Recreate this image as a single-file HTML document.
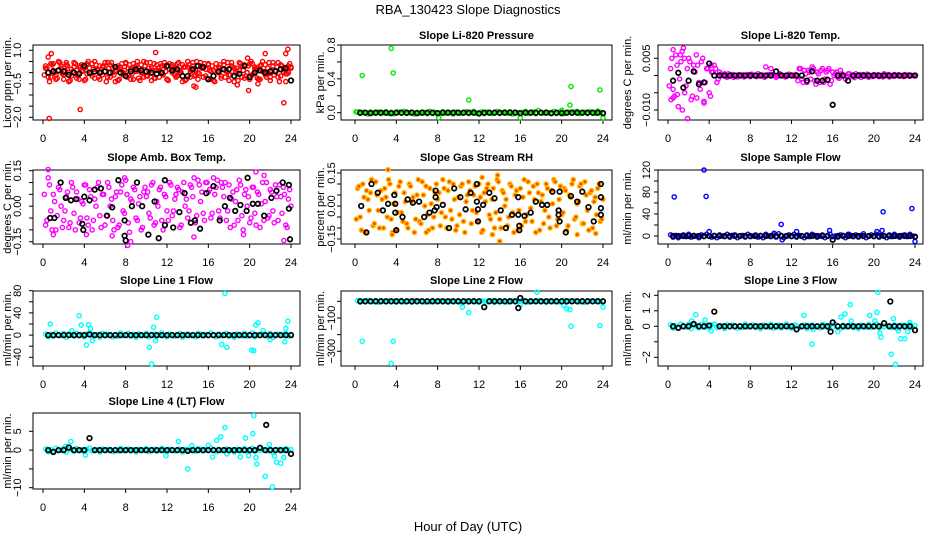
<!DOCTYPE html>
<html><head><meta charset="utf-8"><style>
html,body{margin:0;padding:0;background:#fff;}
svg{display:block;font-family:"Liberation Sans",Arial,sans-serif;}
</style></head><body>
<svg id="chart" width="936" height="540" viewBox="0 0 936 540" xmlns="http://www.w3.org/2000/svg">
<rect x="0" y="0" width="936" height="540" fill="#fff"/>
<text x="468" y="14" text-anchor="middle" font-size="13">RBA_130423  Slope Diagnostics</text>
<text x="468" y="531" text-anchor="middle" font-size="13">Hour of Day (UTC)</text>
</svg>
<script>
const hours96=[0.25,0.5,0.75,1,1.25,1.5,1.75,2,2.25,2.5,2.75,3,3.25,3.5,3.75,4,4.25,4.5,4.75,5,5.25,5.5,5.75,6,6.25,6.5,6.75,7,7.25,7.5,7.75,8,8.25,8.5,8.75,9,9.25,9.5,9.75,10,10.25,10.5,10.75,11,11.25,11.5,11.75,12,12.25,12.5,12.75,13,13.25,13.5,13.75,14,14.25,14.5,14.75,15,15.25,15.5,15.75,16,16.25,16.5,16.75,17,17.25,17.5,17.75,18,18.25,18.5,18.75,19,19.25,19.5,19.75,20,20.25,20.5,20.75,21,21.25,21.5,21.75,22,22.25,22.5,22.75,23,23.25,23.5,23.75,24];
const hoursHalf=[0.125,0.375,0.625,0.875,1.125,1.375,1.625,1.875,2.125,2.375,2.625,2.875,3.125,3.375,3.625,3.875,4.125,4.375,4.625,4.875,5.125,5.375,5.625,5.875,6.125,6.375,6.625,6.875,7.125,7.375,7.625,7.875,8.125,8.375,8.625,8.875,9.125,9.375,9.625,9.875,10.125,10.375,10.625,10.875,11.125,11.375,11.625,11.875,12.125,12.375,12.625,12.875,13.125,13.375,13.625,13.875,14.125,14.375,14.625,14.875,15.125,15.375,15.625,15.875,16.125,16.375,16.625,16.875,17.125,17.375,17.625,17.875,18.125,18.375,18.625,18.875,19.125,19.375,19.625,19.875,20.125,20.375,20.625,20.875,21.125,21.375,21.625,21.875,22.125,22.375,22.625,22.875,23.125,23.375,23.625,23.875];
const hours48=[0.5,1,1.5,2,2.5,3,3.5,4,4.5,5,5.5,6,6.5,7,7.5,8,8.5,9,9.5,10,10.5,11,11.5,12,12.5,13,13.5,14,14.5,15,15.5,16,16.5,17,17.5,18,18.5,19,19.5,20,20.5,21,21.5,22,22.5,23,23.5,24];
const xTickVals=[0,4,8,12,16,20,24];

// CO2
const co2A=[0.3,-0.2,0.4,0.1,-0.3,0.5,0.2,-0.1,0.35,-0.4,0.15,0.45,-0.25,0.3,0.05,-0.35,0.4,0.2,-0.15,0.5,0.1,-0.3,0.25,0.45,-0.2,0.35,0.0,-0.4,0.3,0.15,-0.1,0.45,0.2,-0.3,0.4,0.05,-0.25,0.35,0.5,-0.15,0.2,-0.35,0.4,0.1,-0.2,0.3,0.45,-0.3,0.15,0.35,-0.1,0.4,0.0,-0.4,0.25,0.5,-0.2,0.3,0.1,-0.3,0.45,0.2,-0.15,0.35,0.05,-0.35,0.4,0.25,-0.25,0.5,0.1,-0.1,0.3,-0.4,0.2,0.45,-0.2,0.35,0.0,-0.3,0.4,0.15,-0.25,0.3,0.5,-0.1,0.2,-0.35,0.45,0.1,-0.2,0.35,0.05,-0.4,0.3,0.2];
const co2B=[-0.1,0.2,-0.4,0.35,0.0,-0.25,0.45,-0.05,0.1,0.3,-0.35,0.05,0.4,-0.15,0.25,0.1,-0.3,0.5,-0.05,0.15,0.35,-0.2,0.0,0.3,-0.4,0.2,0.45,-0.1,0.05,-0.3,0.4,0.1,-0.2,0.35,-0.05,0.25,0.5,-0.35,0.0,0.3,-0.15,0.45,0.1,-0.25,0.2,0.4,-0.1,0.05,-0.35,0.3,0.15,-0.2,0.45,0.0,0.25,-0.3,0.35,0.1,-0.15,0.5,-0.05,0.2,0.4,-0.25,0.1,0.3,-0.4,0.05,0.35,0.15,-0.2,0.45,-0.1,0.25,0.0,-0.35,0.4,0.1,-0.15,0.3,0.5,-0.05,0.2,-0.3,0.35,0.05,-0.2,0.45,0.1,-0.1,0.25,-0.4,0.3,0.15,-0.05,0.4];
const co2C=[0.2,0.0,-0.2,0.4,-0.1,0.1,0.3,-0.3,0.45,0.0,-0.15,0.25,0.1,-0.3,0.35,0.2,-0.05,0.0,0.4,-0.25,0.15,0.3,-0.1,0.05,0.45,-0.2,0.2,0.1,-0.35,0.25,0.0,0.4,-0.1,0.15,-0.3,0.3,0.1,0.0,-0.2,0.45,0.05,0.2,-0.25,0.35,0.1,-0.05,0.3,-0.3,0.4,0.0,0.2,-0.15,0.1,0.35,-0.35,0.25,0.05,0.45,-0.1,0.0,0.3,-0.2,0.15,0.4,-0.3,0.1,0.2,0.0,-0.15,0.35,0.05,-0.35,0.45,0.2,-0.05,0.1,0.3,-0.25,0.0,0.4,-0.1,0.25,0.15,-0.3,0.05,0.35,0.0,-0.2,0.3,0.1,0.45,-0.15,0.2,-0.05,0.0,0.25];
const co2OutX=[0.6,3.6,0.8,0.5,10.9,14.6,14.8,19.9,19.8,20.8,23.3,23.5,23.7,21.5,18.8];
const co2OutY=[-2.05,-1.65,0.85,0.7,0.9,-0.6,-0.65,-0.8,0.65,-0.5,-1.35,0.85,1.05,0.85,-0.55];
const co2Black=[0,0.05,0.1,0.05,-0.1,0.0,-0.05,0.3,0.0,0.05,0.0,0.05,0.0,0.25,0.0,-0.15,0.05,0.15,0.1,0.05,0.0,-0.05,0.0,0.3,0.1,0.15,-0.15,-0.15,0.15,0.3,0.25,-0.3,-0.15,0.05,0.15,0.15,-0.15,-0.05,0.3,-0.2,0.0,0.1,0.0,0.05,0.05,0.15,0.2,-0.35];
const co2TickVals=[-2,-1.5,-1,-0.5,0,0.5,1];
const co2LabelVals=[1,-0.5,-2];

// Pressure
const presA=[0.01,-0.01,0.005,0,-0.015,0.01,0,-0.005,0.008,-0.01,0.0,0.012,-0.008,0.005,-0.012,0,0.01,-0.005,0.015,-0.01,0,0.008,-0.015,0.005,-0.005,0.01,0,-0.012,0.015,-0.008,0.005,0,-0.01,0.012,-0.005,0.008,0,-0.015,0.01,0.005,-0.008,0,0.012,-0.01,0.005,0.015,-0.005,0,0.01,-0.012,0.008,0,-0.01,0.005,0.015,-0.008,0,0.01,-0.005,0.012,-0.015,0.008,0,-0.01,0.005,0.015,-0.008,0,0.01,-0.012,0.025,0.005,-0.005,0.01,0,-0.01,0.015,-0.008,0.005,0.012,-0.012,0,0.008,-0.005,0.01,0.015,-0.01,0,0.005,-0.008,0.012,0,-0.01,0.02,0.005,-0.012];
const presOutX=[0.7,3.5,3.7,11,8.1,16,20.8,20.9,23.7,24,20,0.1];
const presOutY=[0.44,0.76,0.47,0.15,-0.06,-0.06,0.09,0.31,0.27,-0.06,0.03,0.01];
const presBlack=[0,0,-0.005,0,0,0,-0.005,0,0,0,0,-0.005,0,0,0,-0.005,0,0,0,0,0,0,0,-0.01,0,0,0,0,0,0,0,-0.005,0,0,0,0,0,-0.005,0,-0.005,0,0,0,0,0,0,0,-0.005];
const presTickVals=[0,0.2,0.4,0.6,0.8];
const presLabelVals=[0,0.4,0.8];

// Temp
const tempA=[0.002,-0.004,0.006,-0.009,0.004,0.008,-0.003,0.005,-0.007,0.003,0.006,-0.002,0.004,-0.008,0.002,-0.005,0.001,0.003,-0.002,0.001,0,0.0005,-0.0005,0,0.0003,0,-0.0004,0,0.0002,0,0.0003,-0.0003,0,0,0.0005,0,-0.0002,0,0.0003,0.002,0,-0.0005,0,0.0003,0,-0.0003,0.0004,0,-0.0002,0,0.002,-0.001,0.0015,-0.002,0.001,0.0025,-0.0015,0.001,-0.002,0.002,-0.001,0.0015,-0.0025,0.001,0.0005,-0.0005,0.0015,0,-0.001,0.0005,0,-0.0003,0.0005,0,-0.0005,0.0003,0,-0.0005,0,0.0003,0,-0.0003,0,0.0005,0,-0.0004,0,0.0003,0,-0.0002,0,0.0003,0,-0.0002,0,0];
const tempB=[-0.003,0.005,-0.006,0.003,-0.001,0.007,-0.005,0.002,0.004,-0.006,0.001,0.003,-0.004,0.005,-0.002,0.002,-0.006,0.001,0.002,-0.001,0.0004,0,-0.0003,0.0005,0,-0.0005,0,0.0003,0,-0.0004,0,0.0002,0.0004,0,-0.0003,0,0.0002,-0.0005,0,0,0.0003,0,-0.0002,0.0005,0,-0.0004,0,0.0002,0,0.0003,-0.0015,0.002,-0.002,0.0005,0.0015,-0.001,0.002,-0.0025,0.0005,0.0015,-0.002,0.001,0.002,-0.0015,0,0.001,-0.0008,0.0005,0,-0.0003,0.0005,0,-0.0006,0,0.0003,0,-0.0002,0.0004,0,-0.0003,0,0.0002,0,-0.0004,0,0.0003,0,-0.0002,0,0.0002,0,-0.0003,0,0.0002,0,0];
const tempOutX=[0.5,1.4,1.9,1.2,0.3,0.5,2.8,3.5,9.5,4.2,0.9,1.6];
const tempOutY=[0.0075,-0.01,-0.0125,0.006,-0.007,-0.0065,-0.0065,-0.0075,0.0025,0.003,-0.0055,0.005];
const tempBlack=[-0.0015,0.0008,-0.0035,-0.0015,0.0012,-0.0025,-0.002,0.0035,0,0,0,0,0,0,0,0,0,0,0,0,0.0012,0,0,0,0,0,-0.0015,0.0012,-0.0015,-0.0015,-0.0012,-0.0085,0,0,-0.0015,0,0,0,0,0,0,0,0,0,0,0,0,0];
const tempTickVals=[0.005,0,-0.005,-0.01];
const tempLabelVals=[0.005,-0.01];

// Amb box temp
const ambA=[-0.08,0.12,-0.02,0.05,-0.1,0.08,0.0,-0.06,0.04,-0.09,0.1,-0.03,0.06,-0.07,0.02,0.09,-0.05,0.07,-0.1,0.03,0.08,-0.04,0.05,-0.08,0.1,0.0,-0.06,0.04,-0.09,0.06,-0.02,0.11,-0.07,0.03,0.08,-0.05,0.01,-0.1,0.06,0.04,-0.03,0.09,-0.08,0.02,0.07,-0.06,0.05,-0.02,0.1,-0.04,0.03,0.08,-0.09,0.06,0.0,-0.05,0.09,0.04,-0.07,0.11,0.02,-0.03,0.1,0.06,-0.05,0.12,0.08,-0.02,0.1,0.04,-0.06,0.09,0.03,-0.08,0.07,0.11,-0.04,0.05,0.0,-0.07,0.08,-0.03,0.06,-0.09,0.1,0.02,-0.05,0.07,-0.02,0.09,-0.06,0.04,0.08,-0.08,0.03,0.0];
const ambB=[0.05,-0.06,0.09,-0.1,0.02,-0.04,0.07,-0.09,-0.02,0.06,-0.07,0.08,-0.1,0.03,-0.05,0.01,0.09,-0.08,0.04,-0.06,0.0,0.1,-0.09,0.05,-0.04,0.08,0.03,-0.1,0.06,-0.08,0.09,-0.03,0.05,-0.11,0.02,0.07,-0.06,0.04,-0.09,0.08,0.06,-0.05,0.1,-0.07,0.0,0.08,-0.1,0.04,-0.06,0.09,-0.02,0.05,0.07,-0.08,0.1,0.03,-0.02,0.08,0.12,-0.04,0.09,0.06,-0.06,0.1,0.07,-0.03,0.05,0.11,-0.05,0.08,0.1,-0.02,-0.09,0.06,0.02,-0.06,0.09,-0.1,0.07,0.04,-0.05,0.08,-0.08,0.05,0.01,-0.06,0.1,-0.04,0.06,-0.07,0.04,0.09,-0.03,0.05,-0.09,0.07];
const ambOutX=[0.5,7.9,20.6,21.4,19.4,8.2,8.5,6.7,1,4.2,14.6,23.3];
const ambOutY=[0.155,0.12,0.145,0.13,-0.12,-0.165,-0.15,-0.125,-0.12,-0.12,-0.13,-0.145];
const ambBlackX=[0.7,1.1,1.7,2.2,2.7,3.2,3.8,3.9,4,4.5,5,5.6,6.2,6.7,7.3,7.9,7.9,8,8.6,9.1,9.6,10.2,10.8,11.2,11.8,11.8,12.6,13.2,13.7,14.3,14.7,15.2,15.8,16.5,17.1,17.6,18.1,18.6,19.1,19.7,19.8,20.3,20.8,21.4,22.1,22.6,23.2,23.8,23.8,23.9];
const ambBlackY=[-0.05,-0.05,0.1,0.035,0.025,0.03,-0.075,-0.1,0.04,0.025,0.07,0.075,-0.04,-0.005,0.11,-0.06,-0.125,-0.145,0,0.1,0,-0.12,0.02,-0.135,0.11,-0.08,-0.09,-0.025,0.055,-0.07,-0.06,-0.095,0.055,0.085,-0.06,0,0.035,-0.02,0.005,-0.02,0.12,0.01,0.01,-0.04,0.035,0.065,0.1,0.09,-0.01,-0.14];
const ambTickVals=[-0.15,-0.1,-0.05,0,0.05,0.1,0.15];
const ambLabelVals=[0.15,0,-0.15];

// RH
const rhA=[0.08,-0.05,0.1,-0.12,0.03,0.06,-0.09,0.11,-0.02,0.07,-0.1,0.04,0.12,-0.06,0.01,-0.11,0.09,-0.03,0.06,-0.08,0.1,0.02,-0.12,0.05,-0.07,0.11,0.0,-0.04,0.08,-0.1,0.06,0.03,-0.09,0.12,-0.05,0.07,-0.02,0.1,-0.11,0.04,0.09,-0.07,0.02,0.11,-0.08,0.05,-0.03,0.1,-0.12,0.06,0.08,-0.04,0.03,-0.1,0.12,-0.06,0.07,0.0,-0.09,0.1,-0.03,0.05,-0.11,0.08,0.04,-0.07,0.11,-0.01,0.09,-0.12,0.06,0.02,-0.08,0.1,-0.05,0.07,0.12,-0.09,0.03,-0.04,0.08,-0.11,0.05,0.1,-0.06,0.01,0.09,-0.08,0.11,-0.02,0.06,-0.1,0.04,0.08,-0.07,0.03];
const rhB=[-0.06,0.09,-0.11,0.04,0.07,-0.02,0.12,-0.08,0.05,-0.1,0.03,0.08,-0.05,0.1,-0.12,0.06,-0.03,0.11,-0.07,0.02,-0.1,0.09,0.04,-0.06,0.12,-0.08,0.05,0.09,-0.11,0.01,-0.05,0.1,0.06,-0.03,0.08,-0.1,0.11,-0.06,0.03,-0.09,-0.04,0.1,-0.12,0.05,0.07,-0.02,0.09,-0.07,0.04,-0.11,0.02,0.1,-0.06,0.08,-0.03,0.11,-0.1,0.06,0.03,-0.05,0.09,-0.12,0.07,-0.02,-0.09,0.12,-0.04,0.06,-0.07,0.03,0.1,-0.11,0.05,-0.02,0.08,-0.1,0.01,0.11,-0.06,0.09,-0.03,0.07,-0.09,0.04,0.12,-0.05,0.02,0.1,-0.08,0.05,-0.11,0.07,0.02,-0.04,0.1,-0.06];
const rhOutX=[3.2,14,13.8,13.3,3.6,21.5,23.3,6.9,1.6,12.3];
const rhOutY=[0.165,-0.16,0.14,-0.13,-0.13,-0.13,-0.125,-0.12,0.12,0.13];
const rhBlackX=[0.6,1.1,1.6,2.2,2.7,3.2,3.8,3.9,3.9,4.0,4.6,5.1,5.6,6.2,6.7,7.2,7.7,7.8,7.8,7.9,8.5,9.1,9.6,10.2,10.7,11.2,11.8,11.8,11.9,11.9,12.4,13.0,13.5,14.1,14.6,15.2,15.8,15.8,15.9,15.9,16.4,17.0,17.5,18.1,18.6,19.1,19.7,19.7,19.8,19.8,20.4,20.9,21.5,22.0,22.6,23.1,23.8,23.8,23.8,23.8];
const rhBlackY=[0.0,-0.12,0.1,0.06,-0.02,0.01,0.05,0.01,-0.03,-0.11,-0.05,0.03,0.015,0.02,-0.05,-0.03,-0.02,0.04,0.07,-0.005,0.005,-0.1,0.08,0.04,-0.015,0.06,0.1,0.02,-0.015,-0.07,0.005,0.06,0.035,-0.02,-0.1,-0.04,0.04,-0.04,-0.09,-0.11,-0.045,-0.03,0.02,0.005,0.005,0.065,-0.02,-0.04,0.065,-0.07,-0.12,0.045,0.02,0.065,-0.005,-0.07,0.1,0.04,-0.01,-0.04];
const rhTickVals=[-0.15,-0.1,-0.05,0,0.05,0.1,0.15];
const rhLabelVals=[0.15,0,-0.15];

// Sample flow
const sampA=[2,-2,1,-3,0,2,-1,3,-2,1,0,-3,2,-1,3,0,-2,1,-3,2,0,-1,3,-2,1,2,-3,0,1,-2,3,-1,0,2,-2,1,-3,3,0,-1,2,-2,4,1,-3,0,2,-1,3,-2,1,0,-3,2,-1,3,1,-2,0,2,-3,1,3,-1,0,-2,2,1,-3,3,0,-1,2,-2,1,4,-3,0,2,-1,3,-2,1,0,-3,2,-1,3,0,-2,1,2,-1,3,0,-2];
const sampOutX=[0.6,3.5,3.7,11,12.5,20.9,23.7,24,4,10.3,15.7,11.1,17.6,20.3,20.8];
const sampOutY=[71,120,72,21,8,44,50,-10,8,5,10,-7,3,8,10];
const sampBlack=[0,0,0,0,0,0,0,0,0,0,0,0,0,0,0,0,0,0,0,0,0,0,0,0,0,0,0,0,0,0,0,-7,0,0,0,0,0,0,0,0,0,0,0,0,0,0,0,-1];
const sampTickVals=[0,20,40,60,80,100,120];
const sampLabelVals=[0,40,80,120];

// Line 1
const l1A=[2,-3,1,-2,4,0,-1,3,-4,2,0,-2,3,-1,1,-3,2,4,-2,0,1,-4,3,-1,2,0,-3,1,-2,4,-1,0,3,-2,1,-4,2,0,-1,3,-3,1,2,-2,0,4,-1,-3,2,1,-2,0,3,-4,1,2,-1,0,-3,3,2,-2,1,-1,4,0,-3,2,-1,1,3,-2,0,-4,2,1,-1,3,-2,0,4,-3,1,-1,2,0,-2,3,-4,1,2,-1,0,3,-2,1];
const l1OutX=[0.7,3.5,3.7,4.2,4.4,4.6,4.8,2.8,10.3,10.5,10.7,11.0,10.9,17.6,17.3,17.8,20.2,20.4,20.8,20.6,23.7,23.5,23.4,21.3,22.0];
const l1OutY=[20,35,18,-18,19,12,-10,8,-22,-52,14,32,-10,75,-17,-22,-27,-28,22,18,25,12,-12,8,-8];
const l1Black=[0,0,0,0,0,0,0,0,1,0,0,0,0,0,0,0,0,0,0,0,0,0,0,0,0,0,0,0,0,0,0,0,0,0,0,0,0,0,0,0,0,0,0,0,0,0,0,0];
const l1TickVals=[-40,-20,0,20,40,60,80];
const l1LabelVals=[80,40,0,-40];

// Line 2
const l2A=[4,-5,2,-3,6,0,-2,5,-6,3,1,-4,5,-2,2,-5,3,6,-3,0,2,-6,4,-1,3,0,-5,2,-3,6,-2,0,4,-3,1,-6,3,0,-2,5,-5,2,3,-4,0,6,-2,-5,3,1,-3,0,4,-6,2,3,-1,0,-4,5,3,-3,2,-2,6,0,-5,3,-1,2,4,-3,0,-6,3,1,-2,5,-3,0,6,-4,2,-1,3,0,-3,4,-6,2,3,-2,0,5,-3,2];
const l2OutX=[0.7,3.5,3.7,10.4,11,17.6,20.2,20.5,20.8,20.9,23.7,24,16,13.5];
const l2OutY=[-240,-372,-240,-35,-68,55,-25,-45,-50,-150,-145,-35,-20,5];
const l2Black=[0,0,0,0,0,0,0,0,0,0,0,0,0,0,0,0,0,0,0,0,0,0,0,0,-35,0,0,0,0,0,0,20,0,0,0,0,0,0,0,0,0,0,0,0,0,0,0,0];
const l2BlackOutX=[15.8];
const l2BlackOutY=[-40];
const l2TickVals=[0,-100,-200,-300];
const l2LabelVals=[-100,-300];

// Line 3
const l3A=[0.1,-0.12,0.05,-0.08,0.15,0,-0.05,0.12,-0.15,0.08,0.02,-0.1,0.12,-0.05,0.05,-0.12,0.08,0.15,-0.08,0,0.05,-0.15,0.1,-0.03,0.08,0,-0.12,0.05,-0.08,0.15,-0.05,0,0.1,-0.08,0.03,-0.15,0.08,0,-0.05,0.12,-0.12,0.05,0.08,-0.1,0,0.15,-0.05,-0.12,0.08,0.03,-0.08,0,0.1,-0.15,0.05,0.08,-0.03,0,-0.1,0.12,0.08,-0.08,0.05,-0.05,0.15,0,-0.12,0.08,-0.03,0.05,0.1,-0.08,0,-0.15,0.08,0.03,-0.05,0.12,-0.08,0,0.15,-0.1,0.05,-0.03,0.08,0,-0.08,0.1,-0.15,0.05,0.08,-0.05,0,0.12,-0.08,0.05];
const l3OutX=[2.7,2.3,3.6,4.2,13.2,14,14.1,16.5,16.8,17.2,17.7,17.8,19.6,20.1,20.3,20.4,20.6,20.7,21.7,21.9,22.1,22.4,22.6,23,23.3,23.5];
const l3OutY=[0.75,0.35,0.4,-0.3,0.7,-1.15,-0.2,-0.35,0.6,0.8,1.4,0.35,0.7,0.35,0.9,2.2,-0.45,-0.7,-1.8,0.5,-2.45,-0.3,-0.8,-0.8,-0.35,0.25];
const l3Black=[0,-0.1,0,0,0.15,0,0,0.05,0.95,0,0,0,0,0,0,0,0,0,0,0,0,0,0,0,-0.2,0,0,0,0,0,0,0.25,0,0,0,0,0,0,0,0,0,0.2,0,0,0,0,0,-0.25];
const l3BlackOutX=[15.8,21.6];
const l3BlackOutY=[-0.35,1.6];
const l3TickVals=[-2,-1,0,1,2];
const l3LabelVals=[2,1,0,-2];

// Line 4
const l4A=[0.3,-0.4,0.1,-0.2,0.5,0,-0.1,0.4,-0.5,0.2,0.1,-0.3,0.4,-0.1,0.1,-0.4,0.2,0.5,-0.2,0,0.1,-0.5,0.3,-0.1,0.2,0,-0.4,0.1,-0.2,0.5,-0.1,0,0.3,-0.2,0.1,-0.5,0.2,0,-0.1,0.4,-0.4,0.1,0.2,-0.3,0,0.5,-0.1,-0.4,0.2,0.1,-0.2,0,0.3,-0.5,0.1,0.2,-0.1,0,-0.3,0.4,0.2,-0.2,0.1,-0.1,0.5,0,-0.4,0.2,-0.1,0.1,0.3,-0.2,0,-0.5,0.2,0.1,-0.1,0.4,-0.2,0,0.5,-0.3,0.1,-0.1,0.2,0,-0.2,0.3,-0.5,0.1,0.2,-0.1,0,0.4,-0.2,0.1];
const l4OutX=[2.2,2.7,4.1,11.9,13.1,14,14.4,16,16.4,16.8,17.2,17.6,17.8,19.1,19.6,19.9,20.3,20.4,20.6,20.7,21.5,21.9,22.2,22.4,22.6,23,23.3,23.6];
const l4OutY=[1,2.3,-1.3,-1.5,2.3,-5,1.2,1.3,-1.8,2.6,3.5,6,-1,-1.8,3.2,-1.5,4.4,9.2,-2,-3.7,-7,1.5,-9.8,-1.6,-3.2,-3.5,-2.0,0.3];
const l4Black=[0,-0.5,0,0,0.7,0,0,0,3.2,0,0,0,0,0,0,0,0,0,0,0,0,0,0,0,0,0,0,-0.2,0,0,0,0,0,0,0,0,0,0,0,0,0,0.6,0,0,0,0,0,-1];
const l4BlackOutX=[21.6];
const l4BlackOutY=[6.7];
const l4TickVals=[5,0,-5,-10];
const l4LabelVals=[5,0,-10];

const cols=[{bx0:33,bx1:300,x0:43,x1:291,lab:18,tit:8},{bx0:341,bx1:612,x0:355,x1:603,lab:332,tit:321},{bx0:658,bx1:923,x0:668,x1:915,lab:647,tit:628}];
const rows=[{by0:45,by1:120,t:35},{by0:170,by1:244,t:157},{by0:291,by1:366,t:280},{by0:413,by1:489,t:401}];

const panels=[
 {key:'co2',title:'Slope Li-820 CO2',c:0,r:0,ylab:'Licor ppm per min.',yv:[1,-2],yp:[50.3,117.3],ticks:co2TickVals,labs:co2LabelVals,dec:1,color:'#ff0000',series:[co2A,co2B,co2C],ox:co2OutX,oy:co2OutY,black:co2Black,bx:[],by:[]},
 {key:'pressure',title:'Slope Li-820 Pressure',c:1,r:0,ylab:'kPa per min.',yv:[0.8,0],yp:[45,112.7],ticks:presTickVals,labs:presLabelVals,dec:1,color:'#00ee00',series:[presA],ox:presOutX,oy:presOutY,black:presBlack,bx:[],by:[]},
 {key:'temp',title:'Slope Li-820 Temp.',c:2,r:0,ylab:'degrees C per min.',yv:[0.005,-0.01],yp:[58.3,110],ticks:tempTickVals,labs:tempLabelVals,dec:3,color:'#ff00ff',series:[tempA,tempB],ox:tempOutX,oy:tempOutY,black:tempBlack,bx:[],by:[]},
 {key:'amb',title:'Slope Amb. Box Temp.',c:0,r:1,ylab:'degrees C per min.',yv:[0.15,-0.15],yp:[170.7,241.7],ticks:ambTickVals,labs:ambLabelVals,dec:2,color:'#ff00ff',series:[ambA,ambB],ox:ambOutX,oy:ambOutY,black:null,bx:ambBlackX,by:ambBlackY},
 {key:'rh',title:'Slope Gas Stream RH',c:1,r:1,ylab:'percent per min.',yv:[0.15,-0.15],yp:[173,239],ticks:rhTickVals,labs:rhLabelVals,dec:2,color:'#ffbb00',fill:'#ff4000',series:[rhA,rhB],ox:rhOutX,oy:rhOutY,black:null,bx:rhBlackX,by:rhBlackY},
 {key:'sample',title:'Slope Sample Flow',c:2,r:1,ylab:'ml/min per min.',yv:[120,0],yp:[170,236],ticks:sampTickVals,labs:sampLabelVals,dec:0,color:'#0000ff',series:[sampA],ox:sampOutX,oy:sampOutY,black:sampBlack,bx:[],by:[]},
 {key:'line1',title:'Slope Line 1 Flow',c:0,r:2,ylab:'ml/min per min.',yv:[80,-40],yp:[290.7,357.3],ticks:l1TickVals,labs:l1LabelVals,dec:0,color:'#00ffff',series:[l1A],ox:l1OutX,oy:l1OutY,black:l1Black,bx:[],by:[]},
 {key:'line2',title:'Slope Line 2 Flow',c:1,r:2,ylab:'ml/min per min.',yv:[0,-300],yp:[301.3,351.3],ticks:l2TickVals,labs:l2LabelVals,dec:0,color:'#00ffff',series:[l2A],ox:l2OutX,oy:l2OutY,black:l2Black,bx:l2BlackOutX,by:l2BlackOutY},
 {key:'line3',title:'Slope Line 3 Flow',c:2,r:2,ylab:'ml/min per min.',yv:[2,-2],yp:[295.3,357.3],ticks:l3TickVals,labs:l3LabelVals,dec:0,color:'#00ffff',series:[l3A],ox:l3OutX,oy:l3OutY,black:l3Black,bx:l3BlackOutX,by:l3BlackOutY},
 {key:'line4',title:'Slope Line 4 (LT) Flow',c:0,r:3,ylab:'ml/min per min.',yv:[5,-10],yp:[431.3,487.7],ticks:l4TickVals,labs:l4LabelVals,dec:0,color:'#00ffff',series:[l4A],ox:l4OutX,oy:l4OutY,black:l4Black,bx:l4BlackOutX,by:l4BlackOutY}
];
const grids=[hours96,hoursHalf,hours96];

const NS='http://www.w3.org/2000/svg';
const svg=document.getElementById('chart');
function mk(tag,attrs,parent){const e=document.createElementNS(NS,tag);for(const k in attrs)e.setAttribute(k,attrs[k]);(parent||svg).appendChild(e);return e;}
function fmt(v,d){const s=Math.abs(v).toFixed(d);return (v<0?'\u2212':'')+s;}

panels.forEach(p=>{
  const C=cols[p.c],R=rows[p.r];
  const g=mk('g',{});
  
  
  const xs=h=>C.x0+(h-0)*(C.x1-C.x0)/24;
  const ys=v=>p.yp[0]+(v-p.yv[0])*(p.yp[1]-p.yp[0])/(p.yv[1]-p.yv[0]);
  const t=mk('text',{x:(C.bx0+C.bx1)/2,y:R.t+4,'text-anchor':'middle','font-size':'11','font-weight':'bold'},g);
  t.textContent=p.title;
  
  
  const box=mk('rect',{x:C.bx0,y:R.by0,width:C.bx1-C.bx0,height:R.by1-R.by0,fill:'none',stroke:'#000','stroke-width':1},g);
  
  
  const xa=mk('g',{},g);
  
  
  mk('line',{x1:xs(xTickVals[0]),x2:xs(xTickVals[xTickVals.length-1]),y1:R.by1,y2:R.by1,stroke:'#000'},xa);
  xTickVals.forEach(v=>{
    mk('line',{x1:xs(v),x2:xs(v),y1:R.by1,y2:R.by1+4,stroke:'#000'},xa);
    const tl=mk('text',{x:xs(v),y:R.by1+22,'text-anchor':'middle','font-size':'11'},xa);
    tl.textContent=String(v);
    
    
  });
  const ya=mk('g',{},g);
  
  
  const tv=p.ticks.map(ys);
  mk('line',{x1:C.bx0,x2:C.bx0,y1:Math.min(...tv),y2:Math.max(...tv),stroke:'#000'},ya);
  p.ticks.forEach(v=>{mk('line',{x1:C.bx0-4,x2:C.bx0,y1:ys(v),y2:ys(v),stroke:'#000'},ya);});
  p.labs.forEach(v=>{
    const yy=ys(v);
    const tl=mk('text',{x:C.lab,y:yy,'text-anchor':'middle','font-size':'11','dominant-baseline':'central',transform:'rotate(-90 '+C.lab+' '+yy+')'},ya);
    tl.textContent=fmt(v,p.dec);
    
    
  });
  const yt=mk('text',{x:C.tit,y:(R.by0+R.by1)/2,'text-anchor':'middle','font-size':'11','dominant-baseline':'central',transform:'rotate(-90 '+C.tit+' '+(R.by0+R.by1)/2+')'},g);
  yt.textContent=p.ylab;
  
  
  const cg=mk('g',{fill:p.fill||'none',stroke:p.color,'stroke-width':1.4},g);
  
  
  const dot=(x,y,parent,r)=>{const c=mk('circle',{cx:x.toFixed(1),cy:y.toFixed(1),r:r},parent);
    
    };
  p.series.forEach((arr,si)=>{const gx=grids[si%grids.length];const n=Math.min(arr.length,gx.length);for(let i=0;i<n;i++)dot(xs(gx[i]),ys(arr[i]),cg,2.1);});
  for(let i=0;i<Math.min(p.ox.length,p.oy.length);i++)dot(xs(p.ox[i]),ys(p.oy[i]),cg,2.1);
  const bg=mk('g',{fill:'none',stroke:'#000','stroke-width':1.7},g);
  
  
  if(p.black){const n=Math.min(p.black.length,hours48.length);for(let i=0;i<n;i++)dot(xs(hours48[i]),ys(p.black[i]),bg,2.3);}
  for(let i=0;i<Math.min(p.bx.length,p.by.length);i++)dot(xs(p.bx[i]),ys(p.by[i]),bg,2.3);
});
</script>
</body></html>
